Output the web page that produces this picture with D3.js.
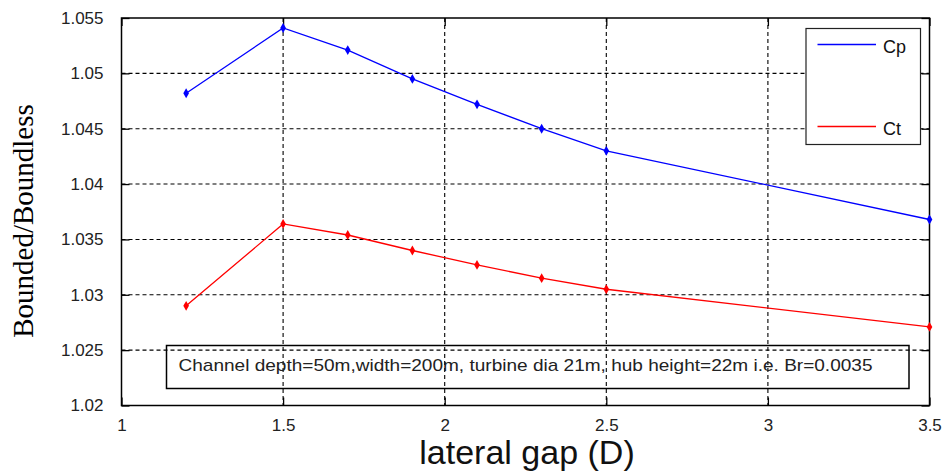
<!DOCTYPE html>
<html>
<head>
<meta charset="utf-8">
<script src="https://cdn.jsdelivr.net/npm/d3@7"></script>
<style>
    body { margin: 0; background: #fff; }
    svg { display: block; }
</style>
</head>
<body>
<div class="usable"></div>
<script>
// datos
const gaps = [1.2, 1.5, 1.7, 1.9, 2.1, 2.3, 2.5, 3.5]
const cpValues = [1.0482, 1.0541, 1.0521, 1.0495, 1.0472, 1.0450, 1.0430, 1.0368]
const ctValues = [1.0290, 1.0364, 1.0354, 1.0340, 1.0327, 1.0315, 1.0305, 1.0271]
const xTicks = [1, 1.5, 2, 2.5, 3, 3.5]
const yTicks = [1.02, 1.025, 1.03, 1.035, 1.04, 1.045, 1.05, 1.055]
const seriesNames = ["Cp", "Ct"]
const seriesColors = ["#0000ff", "#ff0000"]
const note = "Channel depth=50m,width=200m, turbine dia 21m, hub height=22m i.e. Br=0.0035"

const W = 943, H = 474
const pLeft = 121.5, pRight = 929.5, pTop = 18, pBottom = 405.5

let svg = d3.select(".usable").append("svg")
    .attr("width", W)
    .attr("height", H)

let x = d3.scaleLinear().domain([1, 3.5]).range([pLeft, pRight])
let y = d3.scaleLinear().domain([1.02, 1.055]).range([pBottom, pTop])

// rejilla punteada
let grid = svg.append("g")
grid.selectAll(".gx").data(xTicks.slice(1, -1)).join("line")
    .attr("x1", d => x(d)).attr("x2", d => x(d))
    .attr("y1", pTop).attr("y2", pBottom)
    .attr("stroke", "#000").attr("stroke-width", 1.1).attr("stroke-dasharray", "4,3")
grid.selectAll(".gy").data(yTicks.slice(1, -1)).join("line")
    .attr("x1", pLeft).attr("x2", pRight)
    .attr("y1", d => y(d)).attr("y2", d => y(d))
    .attr("stroke", "#000").attr("stroke-width", 1.1).attr("stroke-dasharray", "4,3")

// ejes con ticks hacia dentro
let tickFont = "17px 'Liberation Sans', Arial, sans-serif"
svg.append("g").attr("transform", `translate(0,${pBottom})`)
    .call(d3.axisBottom(x).tickValues(xTicks).tickSizeInner(-8).tickSizeOuter(0).tickPadding(13).tickFormat(d3.format("")))
    .call(g => g.select(".domain").remove())
    .selectAll("text").style("font", tickFont).attr("fill", "#222")
svg.append("g").attr("transform", `translate(0,${pTop})`)
    .call(d3.axisTop(x).tickValues(xTicks).tickSizeInner(-8).tickSizeOuter(0).tickFormat(""))
    .call(g => g.select(".domain").remove())
svg.append("g").attr("transform", `translate(${pLeft},0)`)
    .call(d3.axisLeft(y).tickValues(yTicks).tickSizeInner(-8).tickSizeOuter(0).tickPadding(18).tickFormat(d3.format("")))
    .call(g => g.select(".domain").remove())
    .selectAll("text").style("font", tickFont).attr("fill", "#222")
svg.append("g").attr("transform", `translate(${pRight},0)`)
    .call(d3.axisRight(y).tickValues(yTicks).tickSizeInner(-8).tickSizeOuter(0).tickFormat(""))
    .call(g => g.select(".domain").remove())
svg.selectAll(".tick line").attr("stroke", "#000").attr("stroke-width", 1.3)

// marco
svg.append("rect")
    .attr("x", pLeft).attr("y", pTop)
    .attr("width", pRight - pLeft).attr("height", pBottom - pTop)
    .attr("fill", "none").attr("stroke", "#000").attr("stroke-width", 1.5)

// series
let allValues = [cpValues, ctValues]
let line = d3.line().x((d, i) => x(gaps[i])).y(d => y(d))
allValues.forEach((vals, k) => {
    svg.append("path").datum(vals)
        .attr("d", line)
        .attr("fill", "none")
        .attr("stroke", seriesColors[k])
        .attr("stroke-width", 1.3)
    svg.selectAll(".m" + k).data(vals).join("path")
        .attr("transform", (d, i) => `translate(${x(gaps[i])},${y(d)})`)
        .attr("d", d3.symbol().type(d3.symbolDiamond).size(28))
        .attr("fill", seriesColors[k])
})

// caja de texto
svg.append("rect")
    .attr("x", 166.5).attr("y", 345.5)
    .attr("width", 742.5).attr("height", 43)
    .attr("fill", "none").attr("stroke", "#000").attr("stroke-width", 1.5)
svg.append("text")
    .attr("x", 178.5).attr("y", 371)
    .attr("textLength", 694).attr("lengthAdjust", "spacingAndGlyphs")
    .style("font", "17px 'Liberation Sans', Arial, sans-serif")
    .attr("fill", "#222")
    .text(note)

// leyenda
let legend = svg.append("g")
legend.append("rect")
    .attr("x", 806).attr("y", 28.5)
    .attr("width", 114.5).attr("height", 116)
    .attr("fill", "#fff").attr("stroke", "#222").attr("stroke-width", 1.2)
seriesNames.forEach((name, k) => {
    let ly = k === 0 ? 44.5 : 126.5
    legend.append("line")
        .attr("x1", 817.5).attr("x2", 876)
        .attr("y1", ly).attr("y2", ly)
        .attr("stroke", seriesColors[k]).attr("stroke-width", 1.5)
    legend.append("text")
        .attr("x", 883).attr("y", ly + 8)
        .style("font", "18px 'Liberation Sans', Arial, sans-serif")
        .attr("fill", "#111")
        .text(name)
})

// titulos de ejes
svg.append("text")
    .attr("x", 527).attr("y", 464)
    .attr("text-anchor", "middle")
    .style("font", "34px 'Liberation Sans', Arial, sans-serif")
    .attr("fill", "#111")
    .text("lateral gap (D)")
svg.append("text")
    .attr("transform", "translate(33,221) rotate(-90)")
    .attr("text-anchor", "middle")
    .style("font", "29px 'Liberation Serif', 'Times New Roman', serif")
    .attr("fill", "#000")
    .text("Bounded/Boundless")
</script>
</body>
</html>
